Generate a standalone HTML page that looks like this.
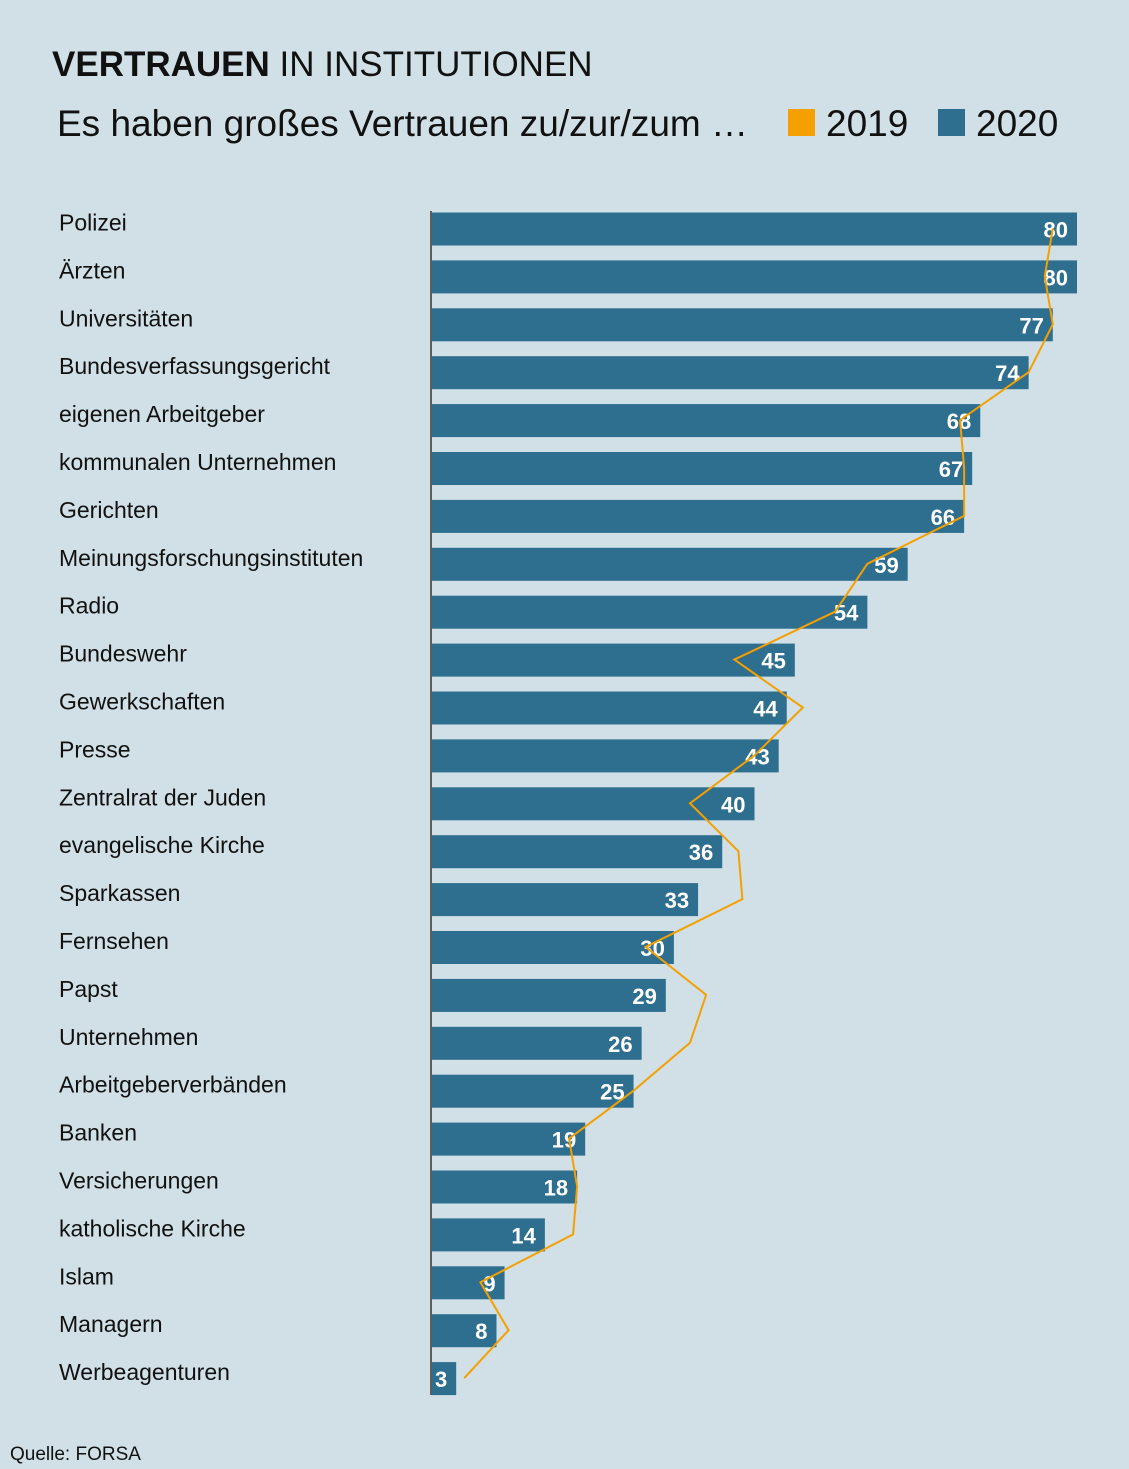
<!DOCTYPE html>
<html><head><meta charset="utf-8"><style>
body{margin:0;background:#d0e0e6;font-family:"Liberation Sans","DejaVu Sans",sans-serif;}
svg{display:block}
</style></head><body>
<svg width="1129" height="1469" viewBox="0 0 1129 1469" xmlns="http://www.w3.org/2000/svg" id="chart">
<rect width="1129" height="1469" fill="#d0e0e6"/>
<text x="52" y="76" font-size="35" fill="#111"><tspan font-weight="bold">VERTRAUEN</tspan> IN INSTITUTIONEN</text>
<text x="57" y="136" font-size="37" fill="#111">Es haben großes Vertrauen zu/zur/zum …</text>
<rect x="788" y="109" width="27" height="27" fill="#f5a000"/>
<text x="826" y="136" font-size="37" fill="#111">2019</text>
<rect x="938" y="109" width="27" height="27" fill="#2e6e8f"/>
<text x="976" y="136" font-size="37" fill="#111">2020</text>
<g id="bars"></g>
<line x1="431" y1="211" x2="431" y2="1395" stroke="#333" stroke-width="1.5"/>
<polyline id="line2019" fill="none" stroke="#f5a000" stroke-width="2"/>
<text x="10" y="1460" font-size="19" fill="#111">Quelle: FORSA</text>
</svg>
<script>
const categories=["Polizei","Ärzten","Universitäten","Bundesverfassungsgericht","eigenen Arbeitgeber","kommunalen Unternehmen","Gerichten","Meinungsforschungsinstituten","Radio","Bundeswehr","Gewerkschaften","Presse","Zentralrat der Juden","evangelische Kirche","Sparkassen","Fernsehen","Papst","Unternehmen","Arbeitgeberverbänden","Banken","Versicherungen","katholische Kirche","Islam","Managern","Werbeagenturen"];
const values2020=[80,80,77,74,68,67,66,59,54,45,44,43,40,36,33,30,29,26,25,19,18,14,9,8,3];
const values2019=[77,76,77,74,65.5,66,66,54,50,37.5,46,40,32,38,38.5,26.5,34,32,25,17,18,17.5,6,9.5,4];
const x=v=>432+v*(645/80);
const y=i=>228.5+i*47.9;
const NS="http://www.w3.org/2000/svg";
const g=document.getElementById('bars');
categories.forEach((c,i)=>{
  const t=document.createElementNS(NS,'text');
  
  
  t.setAttribute('x',59);t.setAttribute('y',y(i)+2);t.setAttribute('font-size',23);t.setAttribute('fill','#111');
  t.textContent=c;g.appendChild(t);
  const r=document.createElementNS(NS,'rect');
  
  
  r.setAttribute('x',432);r.setAttribute('y',y(i)-16);r.setAttribute('width',x(values2020[i])-432);r.setAttribute('height',33);r.setAttribute('fill','#2e6e8f');
  g.appendChild(r);
  const v=document.createElementNS(NS,'text');
  
  
  v.setAttribute('x',x(values2020[i])-9);v.setAttribute('y',y(i)+9);v.setAttribute('font-size',22);v.setAttribute('font-weight','bold');v.setAttribute('fill','#fff');v.setAttribute('text-anchor','end');
  v.textContent=values2020[i];g.appendChild(v);
});
document.getElementById('line2019').setAttribute('points',values2019.map((v,i)=>x(v)+','+y(i)).join(' '));
</script>
</body></html>
